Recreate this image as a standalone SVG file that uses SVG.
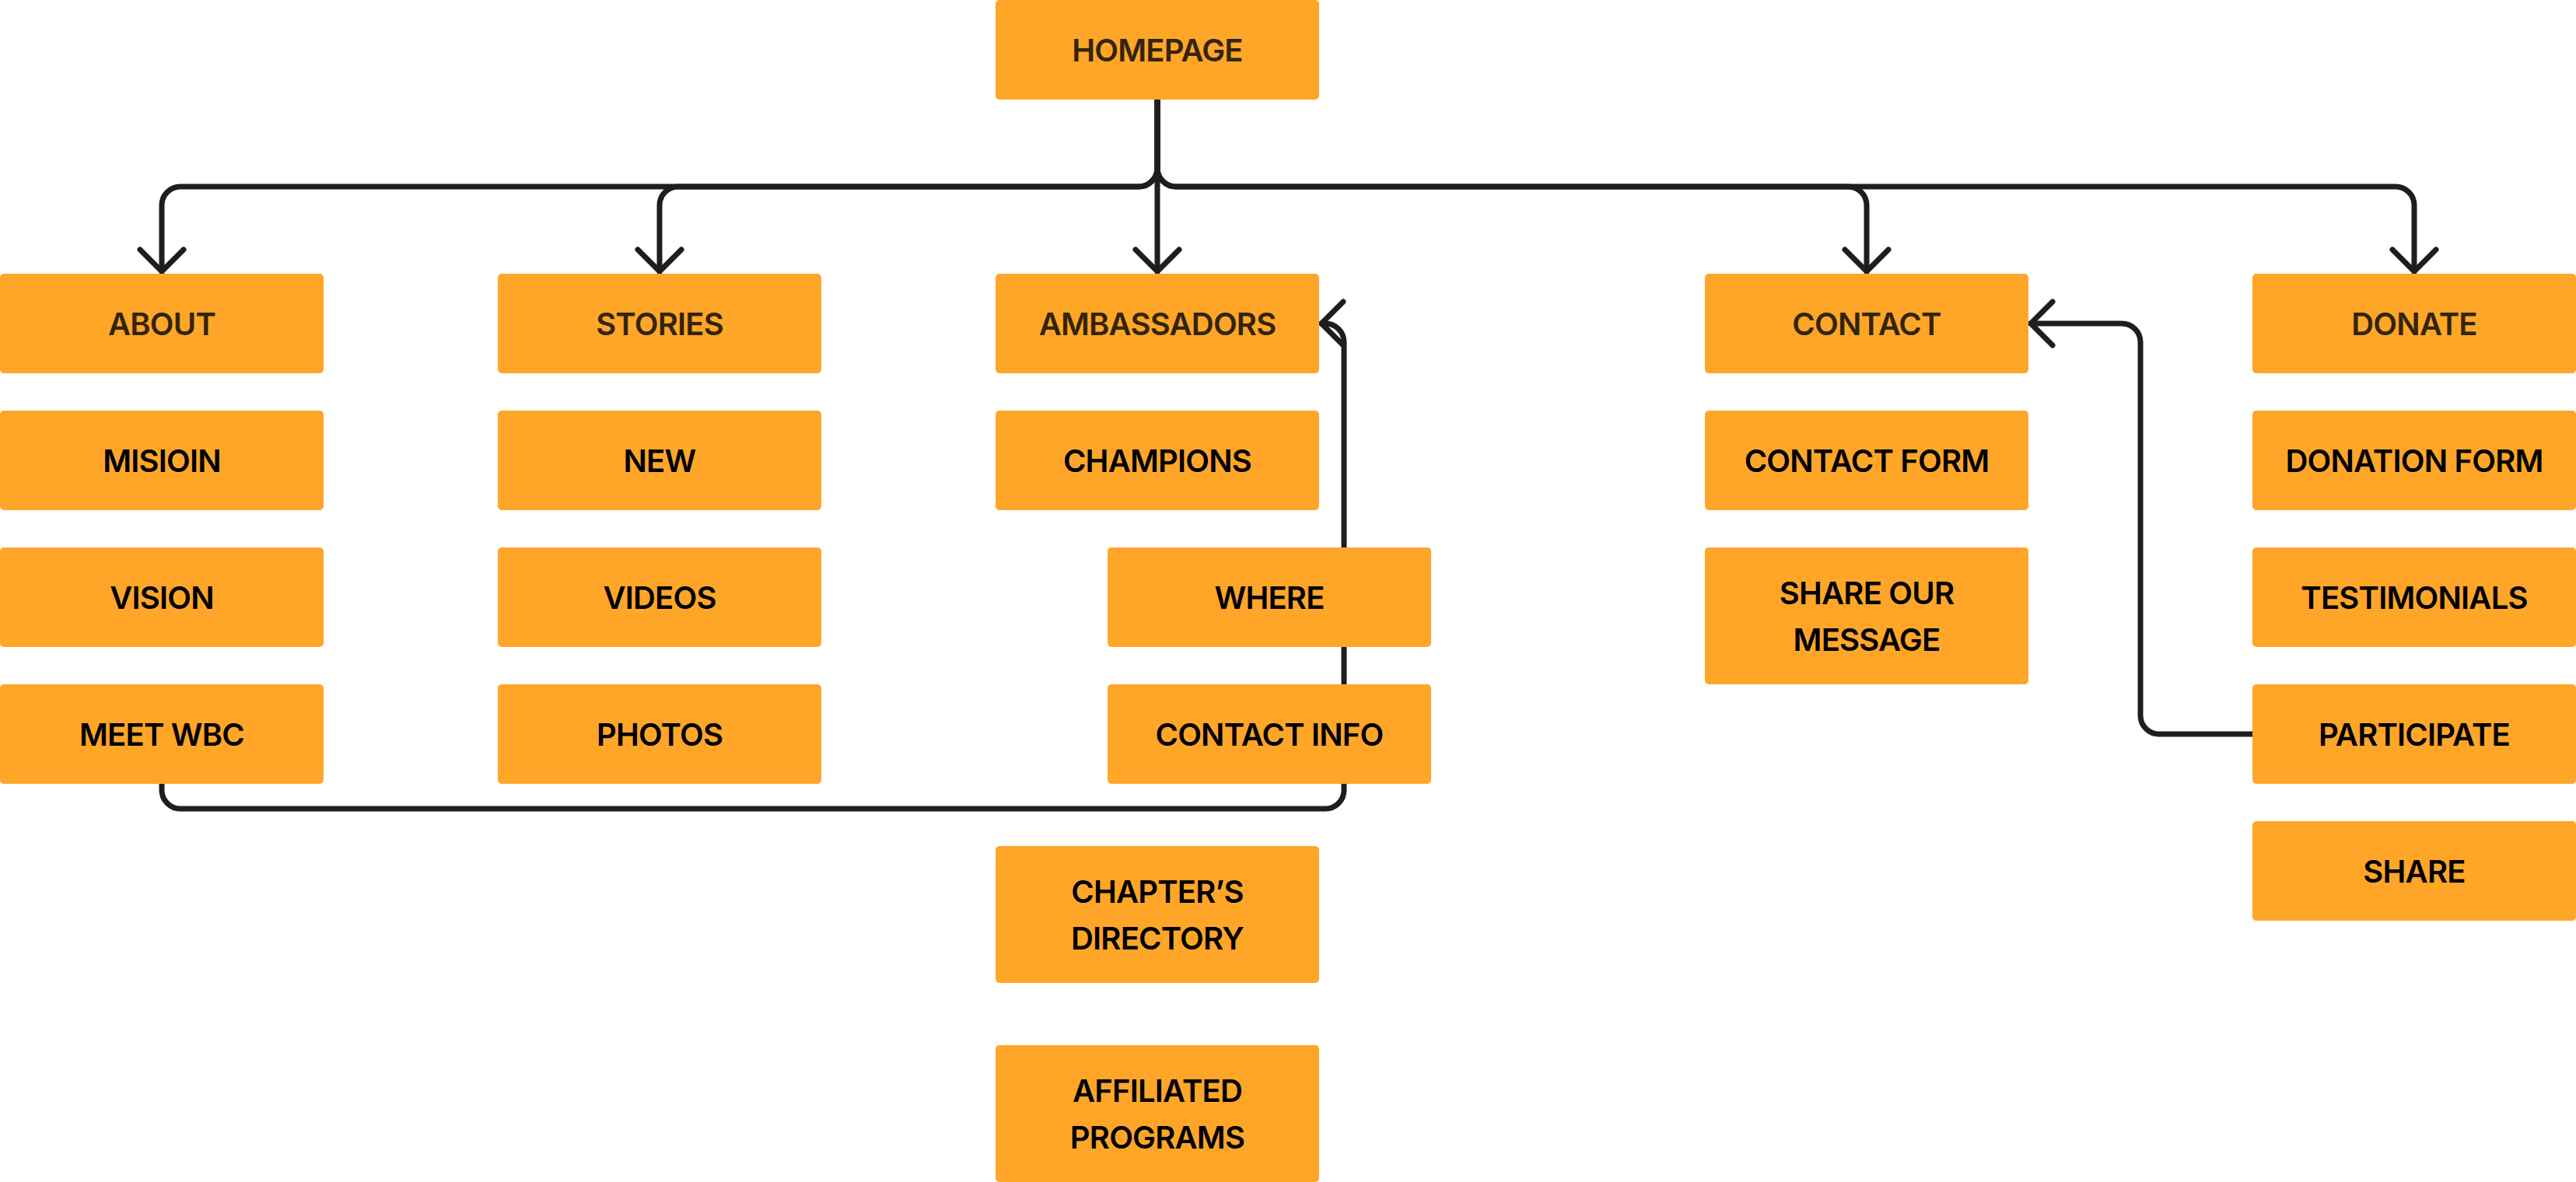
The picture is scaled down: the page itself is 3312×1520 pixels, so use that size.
<svg xmlns="http://www.w3.org/2000/svg" width="3312" height="1520" viewBox="0 0 3312 1520">
  <style>
    .box { fill: #FFA629; }
    .lbl { font-family: Inter, "Noto Sans", "Liberation Sans", sans-serif; font-size: 40px; font-weight: 600; letter-spacing: -0.8px; text-anchor: middle; fill: #000000; }
    .main { fill: #33240B; }
    .wire { fill: none; stroke: #1E1E1E; stroke-width: 7; stroke-linecap: round; stroke-linejoin: round; marker-end: url(#chev); }
  </style>
  <defs>
    <marker id="chev" markerUnits="userSpaceOnUse" markerWidth="80" markerHeight="80" viewBox="-40 -40 80 80" refX="0" refY="0" orient="auto" overflow="visible">
      <path d="M-28,-28 L0,0 L-28,28" fill="none" stroke="#1E1E1E" stroke-width="7" stroke-linecap="round" stroke-linejoin="round"/>
    </marker>
  </defs>
  <rect width="3312" height="1520" fill="#FFFFFF"/>

  <!-- connectors -->
  <g id="connectors">
    <path class="wire" d="M1488,128 V216 A24,24 0 0 1 1464,240 H232 A24,24 0 0 0 208,264 V349"/>
    <path class="wire" d="M1488,128 V216 A24,24 0 0 1 1464,240 H872 A24,24 0 0 0 848,264 V349"/>
    <path class="wire" d="M1488,128 V349"/>
    <path class="wire" d="M1488,128 V216 A24,24 0 0 0 1512,240 H2376 A24,24 0 0 1 2400,264 V349"/>
    <path class="wire" d="M1488,128 V216 A24,24 0 0 0 1512,240 H3080 A24,24 0 0 1 3104,264 V349"/>
    <path class="wire" d="M208,1008 V1016 A24,24 0 0 0 232,1040 H1704 A24,24 0 0 0 1728,1016 V440 A24,24 0 0 0 1704,416 H1699"/>
    <path class="wire" d="M2896,944 H2776 A24,24 0 0 1 2752,920 V440 A24,24 0 0 0 2728,416 H2611"/>
  </g>

  <!-- homepage -->
  <g id="homepage">
    <rect class="box" x="1280" y="0" width="416" height="128" rx="5"/>
    <text class="lbl main" x="1488" y="78.5">HOMEPAGE</text>
  </g>

  <!-- about column -->
  <g id="about">
    <rect class="box" x="0" y="352" width="416" height="128" rx="5"/>
    <text class="lbl main" x="208" y="430.5">ABOUT</text>
  </g>
  <g id="mission">
    <rect class="box" x="0" y="528" width="416" height="128" rx="5"/>
    <text class="lbl" x="208" y="606.5">MISIOIN</text>
  </g>
  <g id="vision">
    <rect class="box" x="0" y="704" width="416" height="128" rx="5"/>
    <text class="lbl" x="208" y="782.5">VISION</text>
  </g>
  <g id="meet-wbc">
    <rect class="box" x="0" y="880" width="416" height="128" rx="5"/>
    <text class="lbl" x="208" y="958.5">MEET WBC</text>
  </g>

  <!-- stories column -->
  <g id="stories">
    <rect class="box" x="640" y="352" width="416" height="128" rx="5"/>
    <text class="lbl main" x="848" y="430.5">STORIES</text>
  </g>
  <g id="new">
    <rect class="box" x="640" y="528" width="416" height="128" rx="5"/>
    <text class="lbl" x="848" y="606.5">NEW</text>
  </g>
  <g id="videos">
    <rect class="box" x="640" y="704" width="416" height="128" rx="5"/>
    <text class="lbl" x="848" y="782.5">VIDEOS</text>
  </g>
  <g id="photos">
    <rect class="box" x="640" y="880" width="416" height="128" rx="5"/>
    <text class="lbl" x="848" y="958.5">PHOTOS</text>
  </g>

  <!-- ambassadors column -->
  <g id="ambassadors">
    <rect class="box" x="1280" y="352" width="416" height="128" rx="5"/>
    <text class="lbl main" x="1488" y="430.5">AMBASSADORS</text>
  </g>
  <g id="champions">
    <rect class="box" x="1280" y="528" width="416" height="128" rx="5"/>
    <text class="lbl" x="1488" y="606.5">CHAMPIONS</text>
  </g>
  <g id="where">
    <rect class="box" x="1424" y="704" width="416" height="128" rx="5"/>
    <text class="lbl" x="1632" y="782.5">WHERE</text>
  </g>
  <g id="contact-info">
    <rect class="box" x="1424" y="880" width="416" height="128" rx="5"/>
    <text class="lbl" x="1632" y="958.5">CONTACT INFO</text>
  </g>
  <g id="chapters-directory">
    <rect class="box" x="1280" y="1088" width="416" height="176" rx="5"/>
    <text class="lbl" x="1488" y="1160.5">CHAPTER’S</text>
    <text class="lbl" x="1488" y="1220.5">DIRECTORY</text>
  </g>
  <g id="affiliated-programs">
    <rect class="box" x="1280" y="1344" width="416" height="176" rx="5"/>
    <text class="lbl" x="1488" y="1416.5">AFFILIATED</text>
    <text class="lbl" x="1488" y="1476.5">PROGRAMS</text>
  </g>

  <!-- contact column -->
  <g id="contact">
    <rect class="box" x="2192" y="352" width="416" height="128" rx="5"/>
    <text class="lbl main" x="2400" y="430.5">CONTACT</text>
  </g>
  <g id="contact-form">
    <rect class="box" x="2192" y="528" width="416" height="128" rx="5"/>
    <text class="lbl" x="2400" y="606.5">CONTACT FORM</text>
  </g>
  <g id="share-our-message">
    <rect class="box" x="2192" y="704" width="416" height="176" rx="5"/>
    <text class="lbl" x="2400" y="776.5">SHARE OUR</text>
    <text class="lbl" x="2400" y="836.5">MESSAGE</text>
  </g>

  <!-- donate column -->
  <g id="donate">
    <rect class="box" x="2896" y="352" width="416" height="128" rx="5"/>
    <text class="lbl main" x="3104" y="430.5">DONATE</text>
  </g>
  <g id="donation-form">
    <rect class="box" x="2896" y="528" width="416" height="128" rx="5"/>
    <text class="lbl" x="3104" y="606.5">DONATION FORM</text>
  </g>
  <g id="testimonials">
    <rect class="box" x="2896" y="704" width="416" height="128" rx="5"/>
    <text class="lbl" x="3104" y="782.5">TESTIMONIALS</text>
  </g>
  <g id="participate">
    <rect class="box" x="2896" y="880" width="416" height="128" rx="5"/>
    <text class="lbl" x="3104" y="958.5">PARTICIPATE</text>
  </g>
  <g id="share">
    <rect class="box" x="2896" y="1056" width="416" height="128" rx="5"/>
    <text class="lbl" x="3104" y="1134.5">SHARE</text>
  </g>
</svg>
